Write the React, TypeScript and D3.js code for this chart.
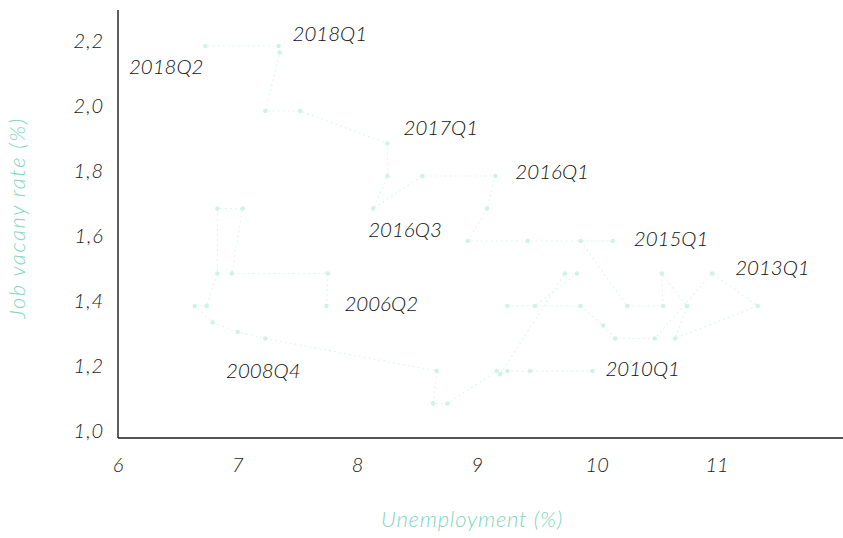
import React from "react";
import * as d3 from "d3";

const quarters = [
  "2006Q2","2006Q3","2006Q4","2007Q1","2007Q2","2007Q3","2007Q4","2008Q1","2008Q2","2008Q3","2008Q4",
  "2009Q1","2009Q2","2009Q3","2009Q4","2010Q1","2010Q2","2010Q3","2010Q4",
  "2011Q1","2011Q2","2011Q3","2011Q4","2012Q1","2012Q2","2012Q3","2012Q4",
  "2013Q1","2013Q2","2013Q3","2013Q4","2014Q1","2014Q2","2014Q3","2014Q4",
  "2015Q1","2015Q2","2015Q3","2015Q4","2016Q1","2016Q2","2016Q3","2016Q4",
  "2017Q1","2017Q2","2017Q3","2017Q4","2018Q1","2018Q2",
];
const unemployment = [
  7.74, 7.75, 6.95, 7.04, 6.83, 6.83, 6.74, 6.64, 6.79, 7.0, 7.23,
  8.66, 8.63, 8.75, 9.16, 9.96, 9.44, 9.25, 9.19,
  9.73, 9.83, 9.48, 9.25, 9.86, 10.05, 10.15, 10.48,
  10.96, 11.34, 10.65, 10.75, 10.54, 10.55, 10.25, 9.86,
  10.13, 9.42, 8.92, 9.08, 9.15, 8.54, 8.13, 8.25,
  8.25, 7.52, 7.23, 7.35, 7.34, 6.73,
];
const vacancies = [
  1.4, 1.5, 1.5, 1.7, 1.7, 1.5, 1.4, 1.4, 1.35, 1.32, 1.3,
  1.2, 1.1, 1.1, 1.2, 1.2, 1.2, 1.2, 1.19,
  1.5, 1.5, 1.4, 1.4, 1.4, 1.34, 1.3, 1.3,
  1.5, 1.4, 1.3, 1.4, 1.5, 1.4, 1.4, 1.6,
  1.6, 1.6, 1.6, 1.7, 1.8, 1.8, 1.7, 1.8,
  1.9, 2.0, 2.0, 2.18, 2.2, 2.2,
];
const labelledQuarters = ["2006Q2","2008Q4","2010Q1","2013Q1","2015Q1","2016Q1","2016Q3","2017Q1","2018Q1","2018Q2"];
const xTicks = [6, 7, 8, 9, 10, 11];
const yTicks = [1.0, 1.2, 1.4, 1.6, 1.8, 2.0, 2.2];
const xTitle = "Unemployment (%)";
const yTitle = "Job vacany rate (%)";

// label placement (styling only)
const labelPos: Record<string, { dx: number; dy: number; anchor: string }> = {
  "2006Q2": { dx: 18, dy: 0, anchor: "start" },
  "2008Q4": { dx: -2, dy: 34, anchor: "middle" },
  "2010Q1": { dx: 13, dy: 0, anchor: "start" },
  "2013Q1": { dx: 23, dy: -4, anchor: "start" },
  "2015Q1": { dx: 21, dy: 0, anchor: "start" },
  "2016Q1": { dx: 20, dy: -2, anchor: "start" },
  "2016Q3": { dx: -5, dy: 23, anchor: "start" },
  "2017Q1": { dx: 16, dy: -14, anchor: "start" },
  "2018Q1": { dx: 14, dy: -10, anchor: "start" },
  "2018Q2": { dx: -2, dy: 23, anchor: "end" },
};

const W = 843;
const H = 538;
const x0 = 118;
const xAxisY = 438;

export default function App() {
  const x = d3.scaleLinear().domain([6, 11]).range([118, 717]);
  const y = d3.scaleLinear().domain([1.0, 2.2]).range([436, 46]);
  const pts = quarters.map((q, i) => ({ q, u: unemployment[i], v: vacancies[i] }));
  const line = d3
    .line<{ u: number; v: number }>()
    .x((d) => x(d.u))
    .y((d) => y(d.v));
  const fmt = (v: number) => d3.format(".1f")(v).replace(".", ",");
  const font = "Lato, 'Open Sans', sans-serif";

  return (
    <svg
      width={W}
      height={H}
      style={{ position: "absolute", left: 0, top: 0, display: "block", background: "#fff" }}
    >
      <path d={line(pts) || ""} fill="none" stroke="#e2f7f0" strokeWidth={1.2} strokeDasharray="2,3" />
      {pts.map((p) => (
        <g key={p.q} transform={`translate(${x(p.u)},${y(p.v)})`}>
          <circle r={2.3} fill="#bdeedd" opacity={0.7} />
        </g>
      ))}
      {/* axes */}
      <line x1={x0} x2={x0} y1={10} y2={xAxisY} stroke="#1a1a1a" strokeWidth={1.4} />
      <line x1={x0} x2={W} y1={xAxisY} y2={xAxisY} stroke="#1a1a1a" strokeWidth={1.4} />
      {yTicks.map((t) => (
        <text
          key={t}
          x={104}
          y={y(t) - 3}
          textAnchor="end"
          dominantBaseline="middle"
          fontFamily={font}
          fontStyle="italic"
          fontWeight={300}
          fontSize={20}
          letterSpacing={1}
          fill="#1a1a1a"
        >
          {fmt(t)}
        </text>
      ))}
      {xTicks.map((t) => (
        <text
          key={t}
          x={x(t)}
          y={467}
          textAnchor="middle"
          dominantBaseline="middle"
          fontFamily={font}
          fontStyle="italic"
          fontWeight={300}
          fontSize={20}
          fill="#1a1a1a"
        >
          {t}
        </text>
      ))}
      {pts
        .filter((p) => labelledQuarters.includes(p.q))
        .map((p) => {
          const lp = labelPos[p.q];
          return (
            <text
              key={"l" + p.q}
              x={x(p.u) + lp.dx}
              y={y(p.v) + lp.dy}
              textAnchor={lp.anchor as any}
              dominantBaseline="middle"
              fontFamily={font}
              fontStyle="italic"
              fontWeight={300}
              fontSize={20.5}
              fill="#111"
            >
              {p.q}
            </text>
          );
        })}
      <text
        x={472}
        y={522}
        textAnchor="middle"
        dominantBaseline="middle"
        fontFamily={font}
        fontStyle="italic"
        fontWeight={300}
        fontSize={22}
        letterSpacing={0.8}
        fill="#7fd8b9"
      >
        {xTitle}
      </text>
      <text
        transform={`translate(20,218) rotate(-90)`}
        textAnchor="middle"
        dominantBaseline="middle"
        fontFamily={font}
        fontStyle="italic"
        fontWeight={300}
        fontSize={22}
        letterSpacing={1.6}
        fill="#7fd8b9"
      >
        {yTitle}
      </text>
    </svg>
  );
}
